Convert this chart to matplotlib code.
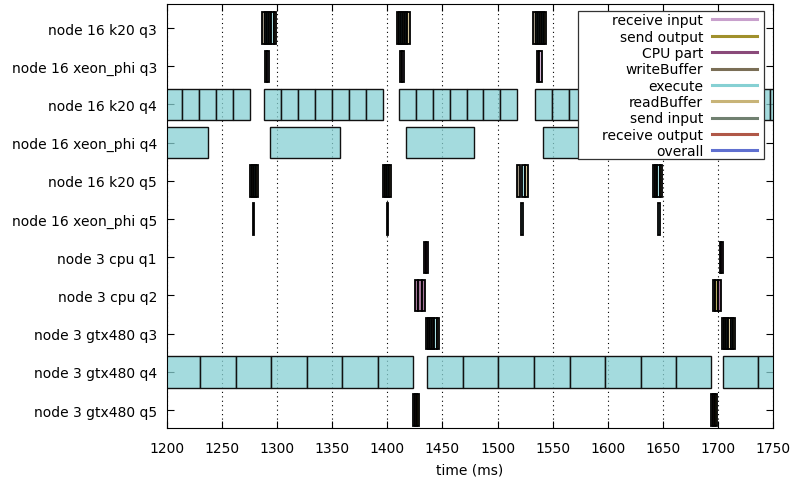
import matplotlib
matplotlib.use('Agg')
import matplotlib.pyplot as plt
from matplotlib.lines import Line2D
from matplotlib.patches import Rectangle
from matplotlib.colors import to_rgba


row_labels = ['node 16 k20 q3', 'node 16 xeon_phi q3', 'node 16 k20 q4',
              'node 16 xeon_phi q4', 'node 16 k20 q5', 'node 16 xeon_phi q5',
              'node 3 cpu q1', 'node 3 cpu q2', 'node 3 gtx480 q3',
              'node 3 gtx480 q4', 'node 3 gtx480 q5']

legend_names = ['receive input', 'send output', 'CPU part', 'writeBuffer',
                'execute', 'readBuffer', 'send input', 'receive output', 'overall']
legend_colors = ['#c8a0cc', '#a0902c', '#8a4a7a', '#7a6e56', '#86d0d3',
                 '#c8b478', '#708070', '#b05848', '#6070d0']

# (start ms, end ms, phase) for every row
k20_q3 = [(1286.7, 1288.9, 'writeBuffer'), (1288.9, 1291.2, 'execute'), (1291.2, 1293.0, 'execute'),
          (1293.0, 1295.0, 'readBuffer'), (1295.0, 1296.9, 'execute'), (1296.9, 1298.8, 'readBuffer'),
          (1408.5, 1410.6, 'writeBuffer'), (1410.6, 1412.7, 'execute'), (1412.7, 1414.5, 'execute'),
          (1414.5, 1416.4, 'readBuffer'), (1416.4, 1418.3, 'execute'), (1418.3, 1420.3, 'readBuffer'),
          (1532.4, 1534.5, 'writeBuffer'), (1534.5, 1536.4, 'execute'), (1536.4, 1538.3, 'execute'),
          (1538.3, 1540.1, 'readBuffer'), (1540.1, 1542.0, 'execute'), (1542.0, 1543.9, 'readBuffer'),
          (1655.0, 1657.1, 'writeBuffer'), (1657.1, 1659.0, 'execute'), (1659.0, 1661.0, 'execute'),
          (1661.0, 1663.0, 'readBuffer'), (1663.0, 1664.9, 'execute'), (1664.9, 1666.8, 'readBuffer')]

xeon_q3 = [(1289.4, 1291.0, 'writeBuffer'), (1291.0, 1292.8, 'receive input'),
           (1411.5, 1413.2, 'writeBuffer'), (1413.2, 1415.1, 'receive input'),
           (1535.5, 1537.6, 'writeBuffer'), (1537.6, 1540.0, 'receive input'),
           (1658.0, 1659.8, 'writeBuffer'), (1659.8, 1661.6, 'receive input')]

k20_q4 = [(1198.7, 1214.1, 'execute'), (1214.1, 1229.6, 'execute'), (1229.6, 1245.0, 'execute'),
          (1245.0, 1260.4, 'execute'), (1260.4, 1275.8, 'execute'),
          (1288.2, 1303.6, 'execute'), (1303.6, 1319.0, 'execute'), (1319.0, 1334.4, 'execute'),
          (1334.4, 1349.8, 'execute'), (1349.8, 1365.3, 'execute'), (1365.3, 1380.7, 'execute'),
          (1380.7, 1396.1, 'execute'),
          (1410.5, 1425.9, 'execute'), (1425.9, 1441.2, 'execute'), (1441.2, 1456.6, 'execute'),
          (1456.6, 1471.9, 'execute'), (1471.9, 1487.2, 'execute'), (1487.2, 1502.6, 'execute'),
          (1502.6, 1517.9, 'execute'),
          (1533.7, 1549.1, 'execute'), (1549.1, 1564.5, 'execute'), (1564.5, 1579.9, 'execute'),
          (1579.9, 1595.3, 'execute'), (1595.3, 1610.7, 'execute'), (1610.7, 1626.1, 'execute'),
          (1626.1, 1641.5, 'execute'),
          (1655.0, 1670.4, 'execute'), (1670.4, 1685.8, 'execute'), (1685.8, 1701.2, 'execute'),
          (1701.2, 1716.6, 'execute'), (1716.6, 1732.0, 'execute'), (1732.0, 1747.4, 'execute'),
          (1747.4, 1762.8, 'execute')]

xeon_q4 = [(1175.0, 1237.4, 'execute'), (1293.7, 1356.9, 'execute'), (1416.7, 1478.4, 'execute'),
           (1541.2, 1603.0, 'execute'), (1664.5, 1726.0, 'execute')]

k20_q5 = [(1275.1, 1277.0, 'send input'), (1277.0, 1279.0, 'writeBuffer'),
          (1279.0, 1280.8, 'execute'), (1280.8, 1282.5, 'readBuffer'),
          (1395.8, 1397.7, 'send input'), (1397.7, 1399.7, 'writeBuffer'),
          (1400.1, 1401.8, 'execute'), (1401.8, 1403.4, 'readBuffer'),
          (1517.9, 1520.3, 'writeBuffer'), (1522.1, 1524.6, 'execute'), (1524.6, 1527.9, 'readBuffer'),
          (1641.2, 1643.1, 'send input'), (1643.1, 1645.0, 'writeBuffer'),
          (1645.0, 1646.9, 'execute'), (1646.9, 1648.8, 'readBuffer')]

xeon_q5 = [(1277.8, 1279.6, 'execute'), (1399.5, 1400.9, 'execute'),
           (1521.2, 1522.7, 'execute'), (1645.2, 1647.3, 'execute')]

cpu_q1 = [(1433.6, 1435.2, 'CPU part'), (1435.2, 1436.7, 'CPU part'),
          (1701.7, 1703.0, 'CPU part'), (1703.0, 1704.4, 'CPU part')]

cpu_q2 = [(1425.1, 1428.0, 'CPU part'), (1428.0, 1431.2, 'CPU part'), (1431.2, 1434.2, 'CPU part'),
          (1695.6, 1697.6, 'receive input'), (1697.6, 1700.0, 'send output'), (1700.0, 1702.6, 'CPU part')]

gtx_q3 = [(1434.7, 1436.8, 'send input'), (1436.8, 1438.8, 'writeBuffer'), (1438.8, 1440.8, 'execute'),
          (1440.8, 1442.8, 'readBuffer'), (1442.8, 1444.8, 'execute'), (1444.8, 1446.8, 'readBuffer'),
          (1703.5, 1705.5, 'send input'), (1705.5, 1707.5, 'writeBuffer'), (1707.5, 1709.4, 'execute'),
          (1709.4, 1711.4, 'readBuffer'), (1711.4, 1713.3, 'execute'), (1713.3, 1715.3, 'readBuffer')]

gtx_q4 = [(1198.3, 1230.5, 'execute'), (1230.5, 1262.6, 'execute'), (1262.6, 1294.8, 'execute'),
          (1294.8, 1326.9, 'execute'), (1326.9, 1359.2, 'execute'), (1359.2, 1391.3, 'execute'),
          (1391.3, 1423.6, 'execute'),
          (1436.3, 1468.7, 'execute'), (1468.7, 1500.7, 'execute'), (1500.7, 1533.0, 'execute'),
          (1533.0, 1565.4, 'execute'), (1565.4, 1597.4, 'execute'), (1597.4, 1629.8, 'execute'),
          (1629.8, 1661.8, 'execute'), (1661.8, 1693.8, 'execute'),
          (1704.1, 1736.4, 'execute'), (1736.4, 1768.6, 'execute')]

gtx_q5 = [(1423.6, 1425.3, 'send input'), (1425.3, 1427.0, 'receive output'), (1427.0, 1428.8, 'send output'),
          (1693.5, 1695.2, 'send input'), (1695.2, 1697.0, 'receive output'), (1697.0, 1698.7, 'send output')]

rows = [k20_q3, xeon_q3, k20_q4, xeon_q4, k20_q5, xeon_q5,
        cpu_q1, cpu_q2, gtx_q3, gtx_q4, gtx_q5]


def main():
    plt.rcParams['font.family'] = 'DejaVu Sans'
    plt.rcParams['font.size'] = 10

    colors = dict(zip(legend_names, legend_colors))

    fig = plt.figure(figsize=(7.98, 4.81), dpi=100)
    ax = fig.add_axes([0.2089, 0.1081, 0.7601, 0.8815])

    for i, segs in enumerate(rows):
        starts = [s for s, e, k in segs]
        widths = [e - s for s, e, k in segs]
        faces = [to_rgba(colors[k], 0.75) for s, e, k in segs]
        # short phases are drawn darker, their borders merge like in the original
        edges = ['#111111' if (e - s) > 5 else 'black' for s, e, k in segs]
        lws = [1.0 if (e - s) > 5 else 1.3 for s, e, k in segs]
        ax.barh([i] * len(segs), widths, left=starts, height=0.82, color=faces,
                edgecolor=edges, linewidth=lws, zorder=2)

    ax.set_xlim(1200, 1750)
    ax.set_ylim(10.47, -0.63)
    ax.set_yticks(range(len(row_labels)))
    ax.set_yticklabels(row_labels)
    ax.set_xticks(range(1200, 1751, 50))
    ax.tick_params(direction='in', length=5, width=0.8, top=True, right=True)
    ax.tick_params(axis='x', pad=9)
    ax.tick_params(axis='y', pad=7)
    ax.xaxis.grid(True, linestyle=(0, (1, 3)), color='black', linewidth=0.8)
    ax.set_axisbelow(True)
    ax.set_xlabel('time (ms)', labelpad=6)

    # legend box (gnuplot style, opaque)
    ax.add_patch(Rectangle((0.6776, 0.6333), 0.3071, 0.3507, transform=ax.transAxes,
                           facecolor='white', edgecolor='#333333', linewidth=0.9, zorder=4))
    handles = [Line2D([], [], color=c, linewidth=2.2) for c in legend_colors]
    leg = ax.legend(handles, legend_names, loc='upper right', bbox_to_anchor=(0.9726, 0.978),
                    frameon=False, markerfirst=False, handlelength=3.2, handletextpad=0.65,
                    labelspacing=0.17, borderpad=0, borderaxespad=0)
    leg.set_zorder(5)

    fig.savefig('out.png', dpi=100)


if __name__ == '__main__':
    main()
